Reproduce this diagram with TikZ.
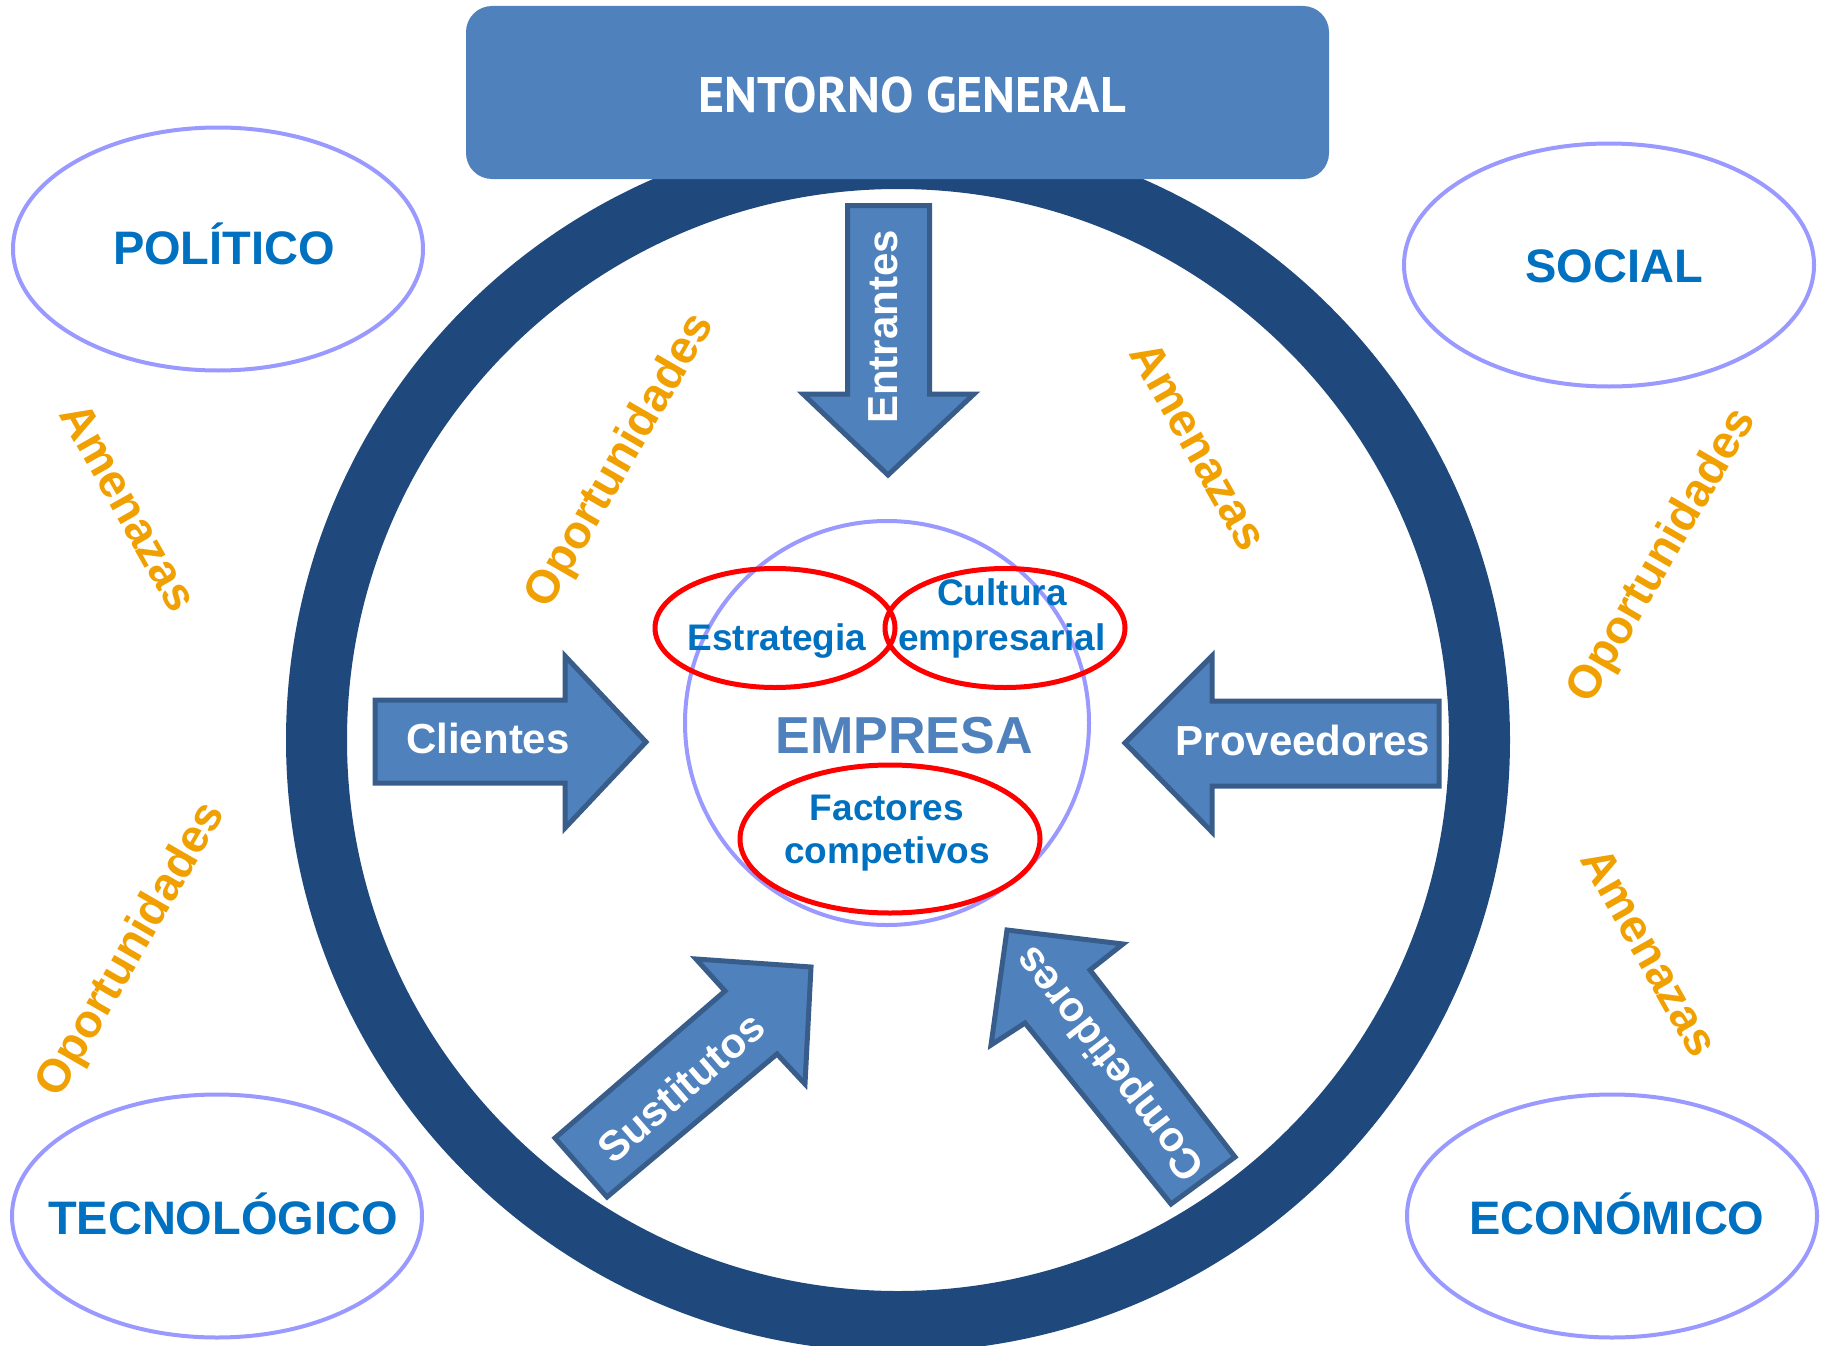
\documentclass[tikz,border=0pt]{standalone}
\usepackage{fontspec}
\setmainfont{Liberation Sans}
\newfontfamily\titlefont{PT Sans}
\usetikzlibrary{shapes.geometric}
\definecolor{ringc}{HTML}{1F497D}
\definecolor{boxc}{HTML}{4F81BD}
\definecolor{arrowline}{HTML}{385D8A}
\definecolor{lav}{HTML}{9999FF}
\definecolor{txtblue}{HTML}{0070C0}
\definecolor{orng}{HTML}{F0A000}
\tikzset{
  envell/.style={ellipse, draw=lav, line width=4, fill=white, minimum width=410, minimum height=243, inner sep=0},
  envtxt/.style={text=txtblue, font=\bfseries\fontsize{47}{56}\selectfont, anchor=base, inner sep=0},
  redell/.style={ellipse, draw=red, line width=5, inner sep=0},
  intxt/.style={text=txtblue, font=\bfseries\fontsize{37}{45}\selectfont, align=center, inner sep=0},
  bigarrow/.style={fill=boxc, draw=arrowline, line width=5, line join=miter},
  lbl/.style={text=white, font=\bfseries\fontsize{42}{50}\selectfont, inner sep=0},
  ortxt/.style={text=orng, font=\bfseries\fontsize{46.5}{54}\selectfont, inner sep=0},
}
\begin{document}
\begin{tikzpicture}[x=1pt,y=-1pt]
\useasboundingbox (0,0) rectangle (1829,1346);
\clip (0,0) rectangle (1829,1346);
% ring
\node[circle, draw=ringc, line width=61, minimum size=1163, inner sep=0] (ring) at (898,740) {};
% top box
\node[fill=boxc, rounded corners=26, minimum width=863, minimum height=173, inner sep=0] (entorno) at (897.5,92.5) {};
\node[text=white, font=\titlefont\bfseries\fontsize{50}{60}\selectfont, anchor=base, inner sep=0] (tentorno) at (912,112) {ENTORNO GENERAL};
% outer ellipses
\node[envell] (politico) at (218,249) {};
\node[envell] (social) at (1609,265) {};
\node[envell] (tecno) at (217,1216) {};
\node[envell] (econo) at (1612,1216) {};
\node[envtxt] (tpolitico) at (224,264) {POLÍTICO};
\node[envtxt] (tsocial) at (1614,282) {SOCIAL};
\node[envtxt] (ttecno) at (223,1234) {TECNOLÓGICO};
\node[envtxt] (tecono) at (1617,1234) {ECONÓMICO};
% empresa circle
\node[circle, draw=lav, line width=4, minimum size=404, inner sep=0] (empresa) at (887,723) {};
\node[text=boxc, font=\bfseries\fontsize{52}{60}\selectfont, anchor=base, inner sep=0] (tempresa) at (904,753) {EMPRESA};
% red ellipses
\node[redell, minimum width=240, minimum height=119] (estr) at (775,628) {};
\node[redell, minimum width=240, minimum height=119] (cult) at (1005,628) {};
\node[redell, minimum width=300, minimum height=148] (fact) at (890,839) {};
\node[intxt, anchor=base] (testr) at (777,650) {Estrategia};
\node[intxt, anchor=base] (tcult1) at (1002,605) {Cultura};
\node[intxt, anchor=base] (tcult2) at (1002,650) {empresarial};
\node[intxt, anchor=base] (tfact1) at (887,820) {Factores};
\node[intxt, anchor=base] (tfact2) at (887,863) {competivos};
% arrows
\draw[bigarrow] (375,700) -- (565,700) -- (565,656) -- (646,742) -- (565,828) -- (565,783) -- (375,783) -- cycle;
\draw[bigarrow] (1125,743) -- (1212,656) -- (1212,701) -- (1439,701) -- (1439,786) -- (1212,786) -- (1212,832) -- cycle;
\draw[bigarrow] (847.5,205.5) -- (929.5,205.5) -- (929.5,394) -- (974,394) -- (888,475) -- (803,394) -- (847.5,394) -- cycle;
\draw[bigarrow] (607,1197) -- (555,1138) -- (725,991) -- (696,959) -- (811,967) -- (805,1084) -- (777,1054) -- cycle;
\draw[bigarrow] (1007,930) -- (1123,944) -- (1090,970) -- (1235,1157) -- (1171,1204) -- (1025,1023) -- (991,1045) -- cycle;
\node[lbl, anchor=base] (tclientes) at (488,753) {Clientes};
\node[lbl, anchor=base] (tprov) at (1303,755) {Proveedores};
\node[lbl, anchor=base, rotate=90] (tentr) at (897,327) {Entrantes};
\node[lbl, rotate=41] (tsust) at (681,1087) {Sustitutos};
\node[lbl, rotate=127.7] (tcomp) at (1112,1062) {Competidores};
% orange labels
\node[ortxt, rotate=-60.5] (am1) at (129,507) {Amenazas};
\node[ortxt, rotate=60] (op1) at (621,461) {Oportunidades};
\node[ortxt, rotate=-60.5] (am2) at (1199,446) {Amenazas};
\node[ortxt, rotate=60] (op2) at (1663,556) {Oportunidades};
\node[ortxt, rotate=60] (op3) at (132,950) {Oportunidades};
\node[ortxt, rotate=-60.5] (am3) at (1650,952) {Amenazas};
\end{tikzpicture}
\end{document}
